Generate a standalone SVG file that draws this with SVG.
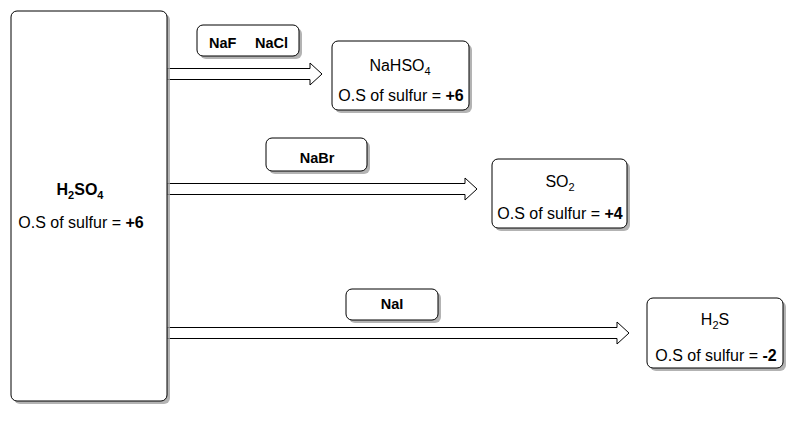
<svg xmlns="http://www.w3.org/2000/svg" width="804" height="426" viewBox="0 0 804 426">
<style>
.box{fill:#fff;stroke:#000;stroke-width:1}
.sh{fill:#a0a0a0;opacity:0.8}
.arr{fill:#fff;stroke:#000;stroke-width:1;stroke-linejoin:miter}
text{font-family:"Liberation Sans",Arial,Helvetica,sans-serif;fill:#000}
.r{font-size:16px}
.b{font-size:14.5px;font-weight:bold}
.bb{font-size:16px;font-weight:bold}
.sub{font-size:11px}
</style>
<rect width="804" height="426" fill="#fff"/>
<g id="connectors">
<polygon class="arr" points="167,68.5 310,68.5 310,63 322,74 310,85 310,79.5 167,79.5"/>
<polygon class="arr" points="167,183.5 465,183.5 465,178 477,189 465,200 465,194.5 167,194.5"/>
<polygon class="arr" points="167,327.5 617,327.5 617,322 629,333 617,344 617,338.5 167,338.5"/>
</g>
<g id="h2so4">
<rect class="sh" x="14" y="14" width="156" height="390" rx="6"/>
<rect class="box" x="11" y="11" width="156" height="390" rx="6"/>
<text class="bb" x="80" y="195" text-anchor="middle">H<tspan class="sub" dy="4">2</tspan><tspan dy="-4">SO</tspan><tspan class="sub" dy="4">4</tspan></text>
<text class="r" x="81" y="228" text-anchor="middle">O.S of sulfur = <tspan font-weight="bold">+6</tspan></text>
</g>
<g id="label-naf-nacl">
<rect class="sh" x="200" y="28" width="102" height="31" rx="6"/>
<rect class="box" x="197" y="25" width="102" height="31" rx="6"/>
<text class="b" y="48"><tspan x="209">NaF</tspan><tspan x="255">NaCl</tspan></text>
</g>
<g id="nahso4">
<rect class="sh" x="335" y="44" width="137" height="69" rx="6"/>
<rect class="box" x="332" y="41" width="137" height="69" rx="6"/>
<text class="r" x="400" y="71" text-anchor="middle">NaHSO<tspan class="sub" dy="4">4</tspan></text>
<text class="r" x="401" y="101" text-anchor="middle">O.S of sulfur = <tspan font-weight="bold">+6</tspan></text>
</g>
<g id="label-nabr">
<rect class="sh" x="269" y="141" width="101" height="33" rx="6"/>
<rect class="box" x="266" y="138" width="101" height="33" rx="6"/>
<text class="b" x="317" y="163" text-anchor="middle">NaBr</text>
</g>
<g id="so2">
<rect class="sh" x="495" y="162" width="135" height="69" rx="6"/>
<rect class="box" x="492" y="159" width="135" height="69" rx="6"/>
<text class="r" x="560" y="187" text-anchor="middle">SO<tspan class="sub" dy="4">2</tspan></text>
<text class="r" x="560" y="219" text-anchor="middle">O.S of sulfur = <tspan font-weight="bold">+4</tspan></text>
</g>
<g id="label-nai">
<rect class="sh" x="349" y="292" width="92" height="31" rx="6"/>
<rect class="box" x="346" y="289" width="92" height="31" rx="6"/>
<text class="b" x="392" y="309" text-anchor="middle">NaI</text>
</g>
<g id="h2s">
<rect class="sh" x="650" y="301" width="136" height="70" rx="6"/>
<rect class="box" x="647" y="298" width="136" height="70" rx="6"/>
<text class="r" x="715" y="325" text-anchor="middle">H<tspan class="sub" dy="4">2</tspan><tspan dy="-4">S</tspan></text>
<text class="r" x="716" y="361" text-anchor="middle">O.S of sulfur = <tspan font-weight="bold">-2</tspan></text>
</g>
</svg>
